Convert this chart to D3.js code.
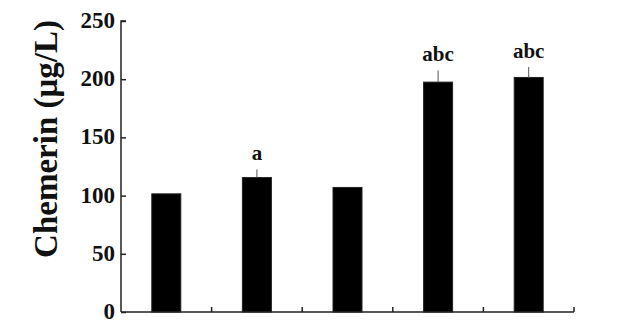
<!DOCTYPE html>
<html>
<head>
<meta charset="utf-8">
<script src="https://cdn.jsdelivr.net/npm/d3@7"></script>
<style>
  body { margin: 0; background: #fff; }
  svg text { font-family: "Liberation Serif", "Times New Roman", serif; font-weight: bold; fill: #111; }
</style>
</head>
<body>
<svg id="chart" width="626" height="320"></svg>
<script>
// data
const groups = ["G1", "G2", "G3", "G4", "G5"];
const means = [101.5, 115.5, 107, 197.5, 201.5];
const errors = [0, 7, 0, 10, 9];
const marks = ["", "a", "", "abc", "abc"];
const yTicks = [0, 50, 100, 150, 200, 250];

const svg = d3.select("#chart");
const plotLeft = 121, plotRight = 574, plotTop = 21, plotBottom = 312;

const x = d3.scaleBand().domain(groups).range([plotLeft, plotRight]).padding(0);
const y = d3.scaleLinear().domain([0, 250]).range([plotBottom, plotTop]);
const barW = x.bandwidth() * 0.32;

// bars
svg.append("g").selectAll("rect")
  .data(groups)
  .enter().append("rect")
  .attr("x", d => x(d) + x.bandwidth() / 2 - barW / 2)
  .attr("y", (d, i) => y(means[i]))
  .attr("width", barW)
  .attr("height", (d, i) => y(0) - y(means[i]))
  .attr("fill", "#000")
  .attr("stroke", "#222")
  .attr("stroke-width", 1);

// error bars (upper only)
svg.append("g").selectAll("line")
  .data(groups.filter((d, i) => errors[i] > 0))
  .enter().append("line")
  .attr("x1", d => x(d) + x.bandwidth() / 2)
  .attr("x2", d => x(d) + x.bandwidth() / 2)
  .attr("y1", d => y(means[groups.indexOf(d)]))
  .attr("y2", d => y(means[groups.indexOf(d)] + errors[groups.indexOf(d)]))
  .attr("stroke", "#555")
  .attr("stroke-width", 1);

// significance letters
svg.append("g").selectAll("text")
  .data(groups)
  .enter().append("text")
  .attr("x", d => x(d) + x.bandwidth() / 2)
  .attr("y", (d, i) => y(means[i] + errors[i]) - 9)
  .attr("text-anchor", "middle")
  .style("font-size", "21px")
  .text((d, i) => marks[i]);

// y axis, ticks pointing inward
const yAxis = svg.append("g")
  .attr("transform", `translate(${plotLeft},0)`)
  .call(d3.axisRight(y).tickValues(yTicks).tickSize(5).tickFormat(""));
yAxis.select(".domain").attr("stroke", "#222").attr("stroke-width", 1.5).attr("d", `M5,${plotTop}H0V${plotBottom}`);
yAxis.selectAll(".tick line").attr("stroke", "#222").attr("stroke-width", 1.5);

svg.append("g").selectAll("text")
  .data(yTicks)
  .enter().append("text")
  .attr("x", plotLeft - 6)
  .attr("y", d => y(d))
  .attr("dy", "0.3em")
  .attr("text-anchor", "end")
  .style("font-size", "23px")
  .text(d => d);

// x axis with ticks at group boundaries, pointing up
const bounds = groups.map(d => x(d) + x.bandwidth());
svg.append("line")
  .attr("x1", plotLeft).attr("x2", plotRight)
  .attr("y1", plotBottom).attr("y2", plotBottom)
  .attr("stroke", "#222").attr("stroke-width", 1.5);
svg.append("g").selectAll("line")
  .data(bounds)
  .enter().append("line")
  .attr("x1", d => d).attr("x2", d => d)
  .attr("y1", plotBottom).attr("y2", plotBottom - 5)
  .attr("stroke", "#222").attr("stroke-width", 1.5);

// y label
svg.append("text")
  .attr("transform", "translate(57,139) rotate(-90)")
  .attr("text-anchor", "middle")
  .style("font-size", "33px")
  .text("Chemerin (μg/L)");
</script>
</body>
</html>
